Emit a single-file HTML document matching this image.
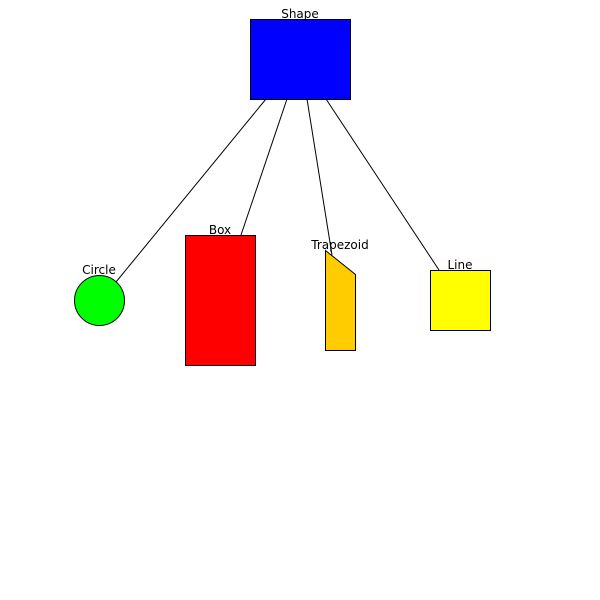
<!DOCTYPE html>
<html><head><meta charset="utf-8"><style>body{margin:0;background:#fff}svg{display:block}text{font-family:"DejaVu Sans",sans-serif;font-size:12px}</style></head>
<body>
<svg width="600" height="600">
<g stroke="#000" stroke-width="1">
<line x1="266" y1="99" x2="116" y2="282"/>
<line x1="287" y1="99" x2="241" y2="235"/>
<line x1="307" y1="99" x2="332" y2="255"/>
<line x1="326" y1="99" x2="439" y2="270"/>
</g>
<rect x="250.5" y="19.5" width="100" height="80" fill="#0000ff" stroke="#000"/>
<text x="300" y="18" text-anchor="middle">Shape</text>
<circle cx="99.5" cy="300.5" r="25" fill="#00ff00" stroke="#000"/>
<text x="99" y="274" text-anchor="middle">Circle</text>
<rect x="185.5" y="235.5" width="70" height="130" fill="#ff0000" stroke="#000"/>
<text x="220" y="234" text-anchor="middle">Box</text>
<polygon points="325.5,250.5 355.5,274.5 355.5,350.5 325.5,350.5" fill="#ffcc00" stroke="#000"/>
<text x="340" y="249" text-anchor="middle">Trapezoid</text>
<rect x="430.5" y="270.5" width="60" height="60" fill="#ffff00" stroke="#000"/>
<text x="460" y="269" text-anchor="middle">Line</text>
</svg>
</body></html>
